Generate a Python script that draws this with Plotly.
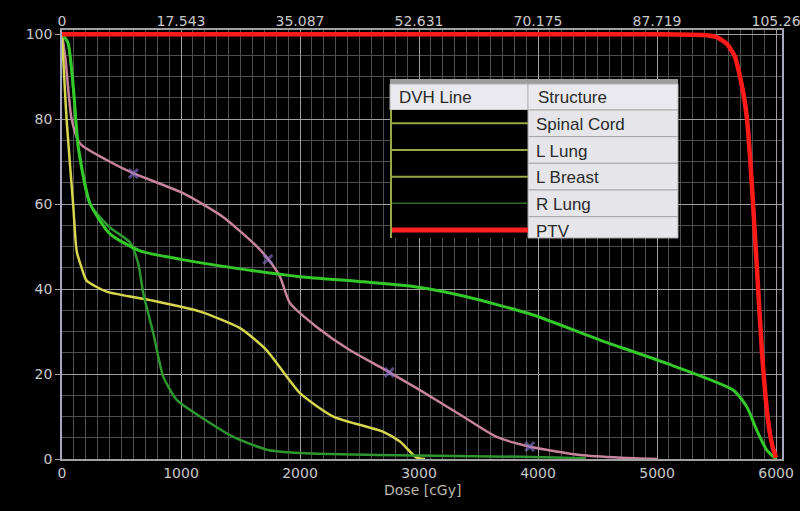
import plotly.graph_objects as go

# ---- DVH data (dose in cGy, volume in %) ----
ptv_dose = [0, 1000, 3000, 5000, 5400, 5500, 5585, 5655, 5697, 5739, 5767, 5798, 5840, 5882, 5933, 5970, 6000]
ptv_vol = [100, 100, 100, 100, 99.8, 99.3, 97.8, 94.7, 90, 83.8, 76.7, 64, 44.5, 25, 9, 3, 0.3]

breast_dose = [0, 50, 95, 137, 235, 403, 655, 1000, 1440, 2000, 2500, 2980, 3400, 3960, 4521, 5081, 5641, 5754, 5838, 5922, 6000]
breast_vol = [100, 98, 87.6, 73.5, 60.2, 53, 49, 47, 45, 42.9, 41.8, 40.5, 38.2, 33.9, 28, 22.5, 16.2, 12.3, 6.8, 2.1, 0]

rlung_dose = [0, 50, 95, 137, 235, 403, 571, 641, 683, 767, 851, 964, 1160, 1440, 1720, 2000, 2980, 3960, 4400]
rlung_vol = [100, 98, 87, 73, 60, 54.5, 51, 46, 39, 29.6, 19.4, 13.9, 10, 5.2, 2.2, 1.4, 0.8, 0.5, 0.2]

cord_dose = [0, 39, 95, 123, 165, 207, 375, 740, 1160, 1496, 1720, 2000, 2280, 2700, 2840, 2980, 3050]
cord_vol = [100, 79.8, 59.4, 49, 45, 42, 39.4, 37.4, 34.7, 30.8, 25.6, 15.5, 10, 6.4, 4.1, 0.3, 0]

llung_dose = [0, 30, 81, 151, 375, 597, 1017, 1353, 1639, 1748, 1832, 1916, 2140, 2420, 2672, 3008, 3370, 3653, 3933, 4353, 4700, 5000]
llung_vol = [100, 94, 80, 74.3, 70.4, 67.3, 62.6, 57, 50, 46.5, 42.9, 36.7, 31.1, 25.6, 21.7, 16.2, 10, 5.2, 2.9, 0.94, 0.3, 0]

# point markers placed on the L Lung curve
mark_dose = [600, 1730, 2750, 3930]
mark_vol = [67.2, 47, 20.4, 2.9]

# axis ticks
x_ticks = [0, 1000, 2000, 3000, 4000, 5000, 6000]
x_tick_text = ["0", "1000", "2000", "3000", "4000", "5000", "6000"]
top_tick_text = ["0", "17.543", "35.087", "52.631", "70.175", "87.719", "105.26"]
y_ticks = [0, 20, 40, 60, 80, 100]

structures = ["Spinal Cord", "L Lung", "L Breast", "R Lung", "PTV"]
swatch_colors = ["#98a848", "#98a848", "#98a848", "#2f6a28", "#ff2020"]
swatch_widths = [2, 2, 2, 1.5, 5]

# ---- figure geometry (pixels) ----
W, H = 800, 511
L, R, T, B = 62, 18, 30, 52
PW, PH = W - L - R, H - T - B


def fx(p):
    return (p - L) / PW


def fy(p):
    return (T + PH - p) / PH


fig = go.Figure()

curve_style = dict(mode="lines", line_shape="spline", hoverinfo="skip", showlegend=False)
fig.add_trace(go.Scatter(x=llung_dose, y=llung_vol, line=dict(color="#c8849e", width=2.5, smoothing=0.6), **curve_style))
fig.add_trace(go.Scatter(x=cord_dose, y=cord_vol, line=dict(color="#d6d64e", width=2.5, smoothing=0.6), **curve_style))
fig.add_trace(go.Scatter(x=rlung_dose, y=rlung_vol, line=dict(color="#2e962e", width=2.5, smoothing=0.6), **curve_style))
fig.add_trace(go.Scatter(x=breast_dose, y=breast_vol, line=dict(color="#34c82a", width=3, smoothing=0.6), **curve_style))
fig.add_trace(go.Scatter(x=ptv_dose, y=ptv_vol, line=dict(color="#ff1a1a", width=4.5, smoothing=0.5), **curve_style))
fig.add_trace(go.Scatter(x=mark_dose, y=mark_vol, mode="markers", hoverinfo="skip", showlegend=False,
                         marker=dict(symbol="x-thin", size=9, line=dict(color="rgba(140,120,210,0.6)", width=3))))
# carrier for the top (% of prescription) axis
fig.add_trace(go.Scatter(x=ptv_dose, y=ptv_vol, xaxis="x2", mode="lines", line=dict(width=0),
                         opacity=0, hoverinfo="skip", showlegend=False))

tick_font = dict(family="DejaVu Sans", size=14, color="#c8c8c8")
fig.update_layout(
    width=W, height=H,
    margin=dict(l=L, r=R, t=T, b=B, autoexpand=False),
    paper_bgcolor="black", plot_bgcolor="black",
    xaxis=dict(range=[0, 6050], tickvals=x_ticks, ticktext=x_tick_text, tickfont=tick_font, automargin=False,
               ticklabeloverflow="allow",
               showgrid=True, gridcolor="#a0a0a0", gridwidth=1, zeroline=False,
               minor=dict(dtick=100, tick0=0, showgrid=True, gridcolor="#4e4e4e", gridwidth=1),
               showline=True, linecolor="#a0a0a0", linewidth=1.5, mirror=True, ticks=""),
    xaxis2=dict(range=[0, 6050], overlaying="x", side="top", tickvals=x_ticks, ticktext=top_tick_text,
                tickfont=tick_font, showgrid=False, zeroline=False, showline=False, ticks="", automargin=False,
                ticklabeloverflow="allow"),
    yaxis=dict(range=[0, 101], tickvals=y_ticks, tickfont=tick_font, automargin=False,
               showgrid=True, gridcolor="#a0a0a0", gridwidth=1, zeroline=False,
               minor=dict(dtick=5, tick0=0, showgrid=True, gridcolor="#4e4e4e", gridwidth=1),
               showline=True, linecolor="#a8a8c0", linewidth=1.5, mirror=True,
               ticks="outside", ticklen=5, tickcolor="#a0a0a0"),
    font=dict(family="DejaVu Sans"),
)

fig.add_annotation(text="Dose [cGy]", xref="paper", yref="paper", x=0.5, y=fy(490),
                   showarrow=False, font=dict(family="DejaVu Sans", size=14, color="#b8b8a8"),
                   xanchor="center", yanchor="middle")

# ---- structure table ----
tx0, tx1, tx2 = 390, 528, 678
shapes = []


def rect(x0, y0, x1, y1, fill, line="#b4b4b4", lw=1):
    shapes.append(dict(type="rect", xref="paper", yref="paper", x0=fx(x0), x1=fx(x1), y0=fy(y1), y1=fy(y0),
                       fillcolor=fill, line=dict(color=line, width=lw), layer="above"))


rect(tx0, 79, tx2, 84, "#9c9c9c", line="#9c9c9c", lw=0)
rect(tx0, 84, tx1, 110, "#e9e9ef")
rect(tx1, 84, tx2, 110, "#e9e9ef")
rect(tx0, 110, tx1, 238, "black", line="black", lw=0)
row_h = 26.67
for i, name in enumerate(structures):
    y0 = 110 + i * row_h
    y1 = min(y0 + row_h, 238)
    rect(tx1, y0, tx2, y1, "#e6e6ea", line="#a8a8a8")
    yc = 110 + (i + 0.5) * row_h
    shapes.append(dict(type="line", xref="paper", yref="paper", x0=fx(tx0 + 1), x1=fx(tx1), y0=fy(yc), y1=fy(yc),
                       line=dict(color=swatch_colors[i], width=swatch_widths[i]), layer="above"))
    fig.add_annotation(text=name, xref="paper", yref="paper", x=fx(tx1 + 6), y=fy(yc + 1),
                       showarrow=False, xanchor="left", yanchor="middle",
                       font=dict(family="Liberation Sans", size=17, color="#2a2a2a"))
shapes.append(dict(type="line", xref="paper", yref="paper", x0=fx(tx0 + 1), x1=fx(tx0 + 1), y0=fy(110), y1=fy(238),
                   line=dict(color="#98a848", width=2), layer="above"))
fig.add_annotation(text="DVH Line", xref="paper", yref="paper", x=fx(tx0 + 7), y=fy(97.5), showarrow=False,
                   xanchor="left", yanchor="middle", font=dict(family="Liberation Sans", size=17, color="#2a2a2a"))
fig.add_annotation(text="Structure", xref="paper", yref="paper", x=fx(tx1 + 8), y=fy(97.5), showarrow=False,
                   xanchor="left", yanchor="middle", font=dict(family="Liberation Sans", size=17, color="#2a2a2a"))
fig.update_layout(shapes=shapes)

fig.write_html("out.html")
